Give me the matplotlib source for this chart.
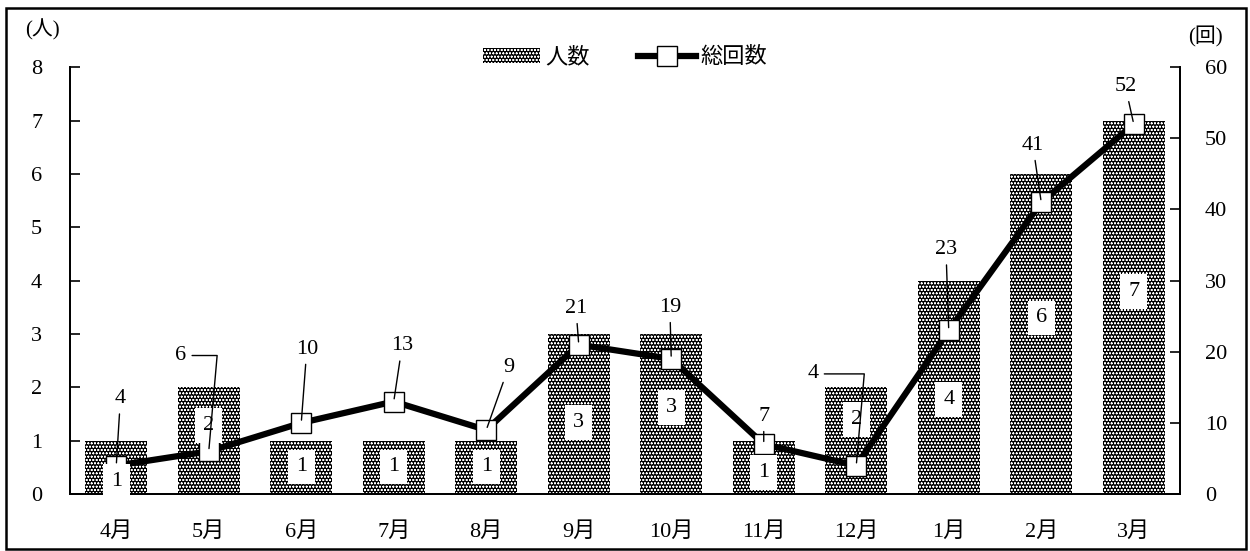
import numpy as np
import matplotlib.pyplot as plt
from matplotlib.patches import Rectangle, Patch
from matplotlib.lines import Line2D

plt.rcParams['font.family'] = ['Liberation Serif', 'Noto Sans CJK JP']
plt.rcParams['hatch.linewidth'] = 0.45

months = ['4月', '5月', '6月', '7月', '8月', '9月', '10月', '11月', '12月', '1月', '2月', '3月']
people = [1, 2, 1, 1, 1, 3, 3, 1, 2, 4, 6, 7]        # 人数
visits = [4, 6, 10, 13, 9, 21, 19, 7, 4, 23, 41, 52]  # 総回数

x = np.arange(len(months))

# where the count labels sit inside each bar (left axis units)
bar_lbl_y = [0.23, 1.28, 0.51, 0.51, 0.51, 1.34, 1.62, 0.4, 1.4, 1.77, 3.3, 3.8]
# label offsets for the line values (points), and leader style
line_lbl_off = [(3, 48), (-20, 69), (4, 53), (6, 40), (16, 45), (-2, 26),
                (-1, 37), (0, 20), (-31, 66), (-2, 58), (-6, 41), (-6, 27)]
elbow = [False, True, False, False, False, False, False, False, True, False, False, False]

HATCH = 'ooooo'

fig = plt.figure(figsize=(12.5, 5.51), dpi=100)
ax = fig.add_axes([0.056, 0.1034, 0.888, 0.7746])
ax2 = ax.twinx()

ax.bar(x, people, width=0.67, color='black', edgecolor='white', linewidth=0,
       hatch=HATCH, zorder=2)

ax.set_xlim(-0.5, len(months) - 0.5)
ax.set_ylim(0, 8)
ax.set_yticks(range(0, 9))
ax2.set_ylim(0, 60)
ax2.set_yticks(range(0, 61, 10))

ax.set_xticks(x)
ax.set_xticklabels(months)
ax.tick_params(axis='x', length=0, pad=20, labelsize=16)
ax.tick_params(axis='y', direction='in', length=7, width=1.2, pad=20, labelsize=16)
ax2.tick_params(axis='y', direction='in', length=7, width=1.2, pad=18, labelsize=16)
for a in (ax, ax2):
    a.spines['top'].set_visible(False)
    for s in ('left', 'right', 'bottom'):
        a.spines[s].set_linewidth(1.3)

# line on the right axis, drawn on top of the bars
ax2.set_zorder(ax.get_zorder() + 1)
ax2.patch.set_visible(False)
ax2.plot(x, visits, color='black', linewidth=4.5, marker='s', markersize=14,
         markerfacecolor='white', markeredgecolor='black', markeredgewidth=1, zorder=3)

# bar counts in white boxes, above the line
for i, (v, yy) in enumerate(zip(people, bar_lbl_y)):
    ax2.text(i, yy * 7.5, str(v), ha='center', va='center', fontsize=16, zorder=4,
             bbox=dict(boxstyle='square,pad=0.35', facecolor='white', edgecolor='none'))

# visit counts with leader lines
for i, v in enumerate(visits):
    dx, dy = line_lbl_off[i]
    if elbow[i]:
        cs = 'angle,angleA=0,angleB=85,rad=0'
    else:
        cs = 'arc3'
    ax2.annotate(str(v), xy=(i, v), xytext=(dx, dy), textcoords='offset points',
                 ha='center', va='center', fontsize=16, zorder=5,
                 arrowprops=dict(arrowstyle='-', color='black', lw=1,
                                 shrinkA=2, shrinkB=2, connectionstyle=cs))

handles = [Patch(facecolor='black', edgecolor='white', linewidth=0, hatch=HATCH),
           Line2D([], [], color='black', linewidth=4.5, marker='s', markersize=14,
                  markerfacecolor='white', markeredgecolor='black')]
fig.legend(handles, ['人数', '総回数'], loc='center', bbox_to_anchor=(0.5, 0.895),
           ncol=2, frameon=False, fontsize=16, handlelength=2.6, handletextpad=0.2,
           columnspacing=2.2)

fig.text(0.034, 0.946, '(人)', ha='center', va='center', fontsize=15)
fig.text(0.964, 0.933, '(回)', ha='center', va='center', fontsize=15)

fig.patches.append(Rectangle((0.005, 0.004), 0.992, 0.981, transform=fig.transFigure,
                             fill=False, edgecolor='black', linewidth=1.8))

fig.savefig('out.png', dpi=100)
